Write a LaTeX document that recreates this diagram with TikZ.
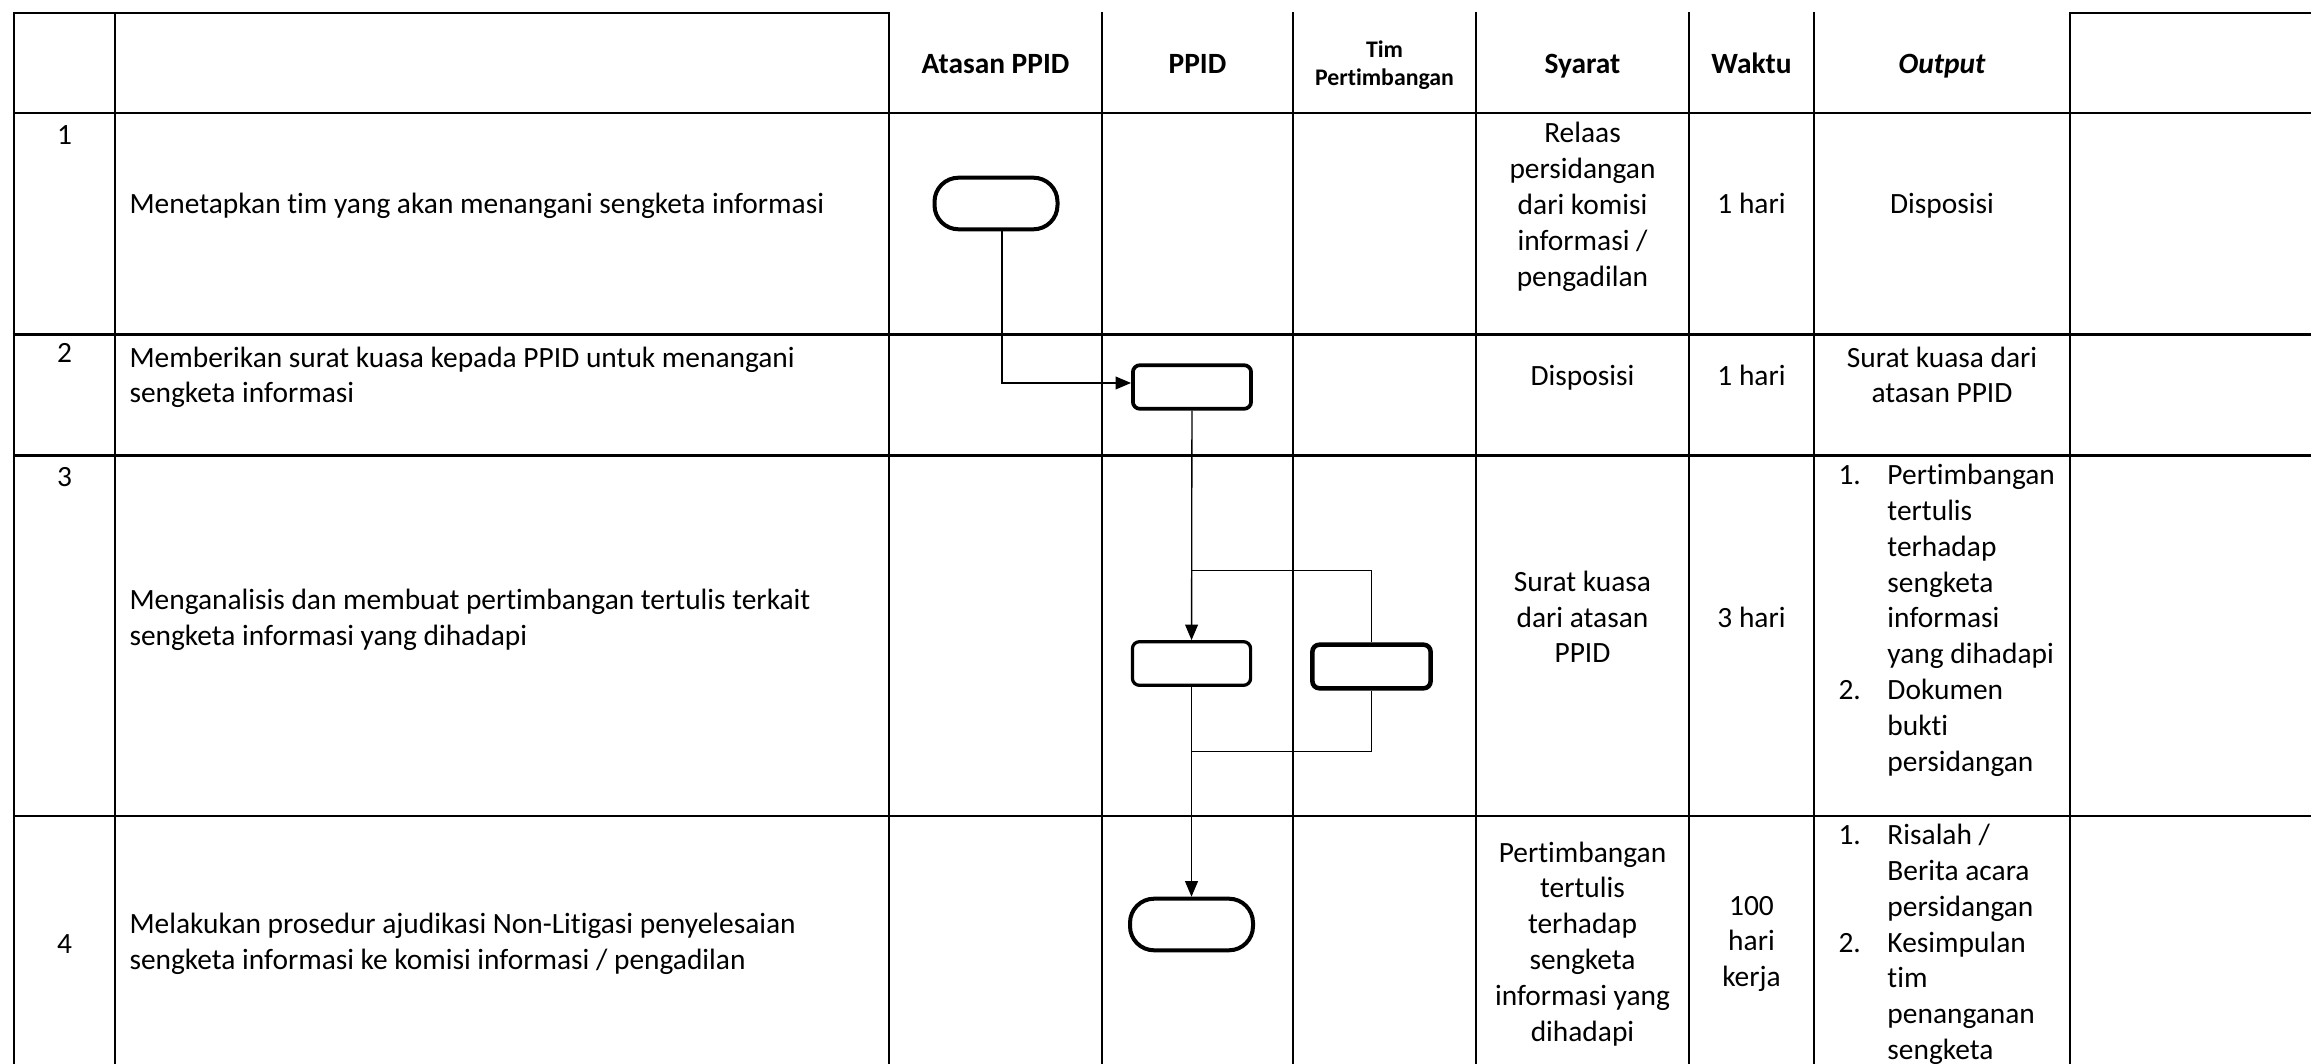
\documentclass[tikz,border=0pt]{standalone}
\usepackage{fontspec}
\setmainfont{Carlito}[Ligatures={NoCommon}]
\usepackage{tikz}
\usetikzlibrary{calc, positioning, arrows.meta}

\begin{document}
\begin{tikzpicture}
		[x=0.374pt, y=-0.374pt,
		every node/.style={inner sep=0pt, font=\fontsize{11}{13.4}\selectfont},
		grid/.style={line width=0.75pt, line cap=rect},
		head/.style={font=\fontsize{11}{13.4}\selectfont\bfseries, anchor=base},
		num/.style={anchor=base},
		desc/.style={anchor=west, align=left, yshift=-0.7pt},
		cell/.style={align=center, yshift=-0.7pt},
		proc/.style={draw, rectangle, rounded corners=2.6pt, line width=1.4pt, minimum width=44.2pt, minimum height=16.3pt},
		term/.style={draw, rectangle, rounded corners=9pt, line width=1.5pt, minimum width=46pt, minimum height=19.3pt},
		flow/.style={line width=.5pt},
		arr/.style={-{Triangle[length=5.8pt, width=4.8pt]}, line width=.5pt}]
		\useasboundingbox (0,0) rectangle (2311,1064);

		% table %
		\draw[grid] (14,13) -- (889,13);
		\draw[grid] (2070,13) -- (2311,13);
		\foreach \y in {113.5,334.5,455.5,815.5}
			\draw[grid] (14,\y) -- (2311,\y);
		\foreach \x in {14,115,889,1102,1293,1476,1689,1814,2070}
			\draw[grid] (\x,13) -- (\x,1064);

		% header %
		\node[head] (hatasan) at (995.5,74) {Atasan PPID};
		\node[head] (hppid) at (1197.5,74) {PPID};
		\node[font=\fontsize{8.9}{10.5}\selectfont\bfseries, align=center] (htim) at (1384.5,65) {Tim\\Pertimbangan};
		\node[head] (hsyarat) at (1582.5,74) {Syarat};
		\node[head] (hwaktu) at (1751.5,74) {Waktu};
		\node[head, font=\fontsize{11}{13.4}\selectfont\bfseries\itshape] (houtput) at (1942,74) {Output};

		% rows %
		\node[num] (n1) at (64.5,145) {1};
		\node[num] (n2) at (64.5,363) {2};
		\node[num] (n3) at (64.5,487) {3};
		\node[num] (n4) at (64.5,953) {4};

		\node[desc] (d1) at (129,204) {Menetapkan tim yang akan menangani sengketa informasi};
		\node[desc] (d2) at (129,375.5) {Memberikan surat kuasa kepada PPID untuk menangani\\sengketa informasi};
		\node[desc] (d3) at (129,618) {Menganalisis dan membuat pertimbangan tertulis terkait\\sengketa informasi yang dihadapi};
		\node[desc] (d4) at (129,942) {Melakukan prosedur ajudikasi Non-Litigasi penyelesaian\\sengketa informasi ke komisi informasi / pengadilan};

		\node[cell] (s1) at (1582.5,205) {Relaas\\persidangan\\dari komisi\\informasi /\\pengadilan};
		\node[cell, anchor=base] (s2) at (1582.5,384) {Disposisi};
		\node[cell] (s3) at (1582.5,615) {Surat kuasa\\dari atasan\\PPID};
		\node[cell] (s4) at (1582.5,942) {Pertimbangan\\tertulis\\terhadap\\sengketa\\informasi yang\\dihadapi};

		\node[cell, anchor=base] (w1) at (1751.5,212) {1 hari};
		\node[cell, anchor=base] (w2) at (1751.5,384) {1 hari};
		\node[cell, anchor=base] (w3) at (1751.5,626) {3 hari};
		\node[cell] (w4) at (1751.5,942) {100\\hari\\kerja};

		\node[cell, anchor=base] (o1) at (1942,212) {Disposisi};
		\node[cell] (o2) at (1942,373) {Surat kuasa dari\\atasan PPID};
		\node[anchor=north west] (o3) at (1838,459) {\begin{tabular}{@{}p{18.3pt}@{}l@{}}
			1. & Pertimbangan\\ & tertulis\\ & terhadap\\ & sengketa\\ & informasi\\ & yang dihadapi\\
			2. & Dokumen\\ & bukti\\ & persidangan
		\end{tabular}};
		\node[anchor=north west] (o4) at (1838,819) {\begin{tabular}{@{}p{18.3pt}@{}l@{}}
			1. & Risalah /\\ & Berita acara\\ & persidangan\\
			2. & Kesimpulan\\ & tim\\ & penanganan\\ & sengketa
		\end{tabular}};

		% shapes %
		\node[term] (t1) at (996,203.5) {};
		\node[proc] (b2) at (1192,387) {};
		\node[proc, line width=1.2pt] (b3) at (1191.5,663.5) {};
		\node[proc, line width=1.7pt] (b4) at (1371.5,666.5) {};
		\node[term] (t5) at (1191.5,924.5) {};

		% edges %
		\coordinate (fork) at (1192,570.5);
		\coordinate (join) at (1192,751.5);
		\draw[arr] ([xshift=2.2pt]t1.south) |- ([yshift=1.5pt]b2.west);
		\draw[arr] (b2) -- (b3);
		\draw[flow] (fork) -| (b4);
		\draw[flow] (b4) |- (join);
		\draw[arr] (b3) -- (t5);
\end{tikzpicture}
\end{document}
